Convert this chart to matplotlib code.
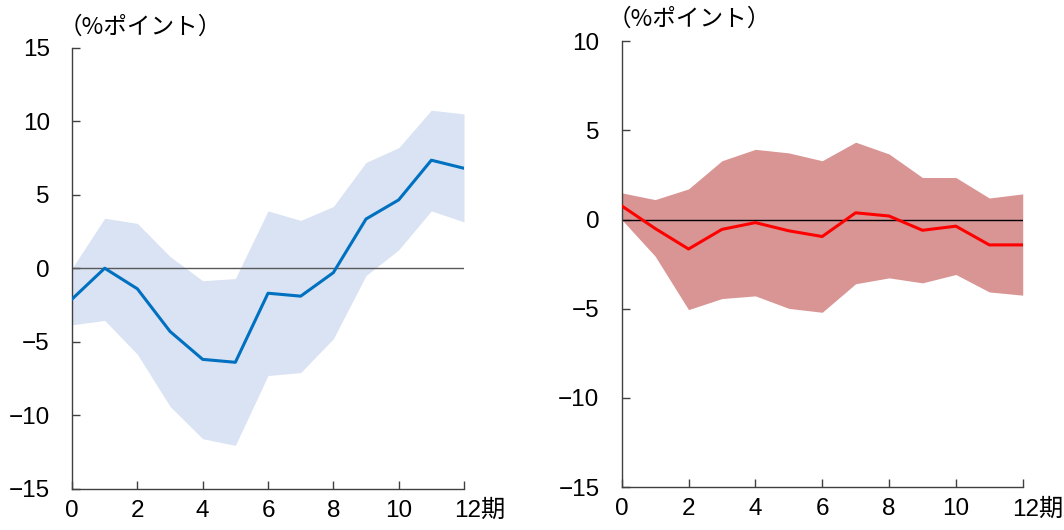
import matplotlib.pyplot as plt
from matplotlib.transforms import ScaledTranslation

plt.rcParams["font.family"] = ["Liberation Sans", "Noto Sans CJK JP"]
plt.rcParams["axes.unicode_minus"] = True

periods = list(range(13))

left_mid = [-2.1, 0.0, -1.4, -4.3, -6.2, -6.4, -1.7, -1.9, -0.3, 3.35, 4.65, 7.35, 6.8]
left_upper = [0.0, 3.4, 3.05, 0.8, -0.85, -0.7, 3.9, 3.25, 4.2, 7.2, 8.2, 10.75, 10.5]
left_lower = [-3.85, -3.55, -5.85, -9.4, -11.6, -12.05, -7.3, -7.1, -4.8, -0.5, 1.25, 3.9, 3.15]

right_mid = [0.77, -0.5, -1.65, -0.55, -0.17, -0.63, -0.95, 0.38, 0.2, -0.6, -0.37, -1.42, -1.42]
right_upper = [1.5, 1.12, 1.72, 3.3, 3.94, 3.74, 3.3, 4.34, 3.68, 2.36, 2.36, 1.21, 1.44]
right_lower = [0.0, -2.05, -5.05, -4.43, -4.28, -4.98, -5.2, -3.6, -3.27, -3.55, -3.08, -4.06, -4.24]

x_ticks = [0, 2, 4, 6, 8, 10, 12]
x_labels = ["0", "2", "4", "6", "8", "10", "12期"]
unit_label = "（%ポイント）"

fig = plt.figure(figsize=(10.64, 5.30), dpi=100)
ax1 = fig.add_axes([0.0677, 0.0779, 0.3684, 0.832])
ax2 = fig.add_axes([0.5843, 0.0811, 0.3769, 0.841])


def style_axis(ax, ylim, yticks, zero_color):
    ax.set_xlim(0, 12)
    ax.set_ylim(*ylim)
    ax.set_yticks(yticks)
    ax.set_xticks(x_ticks)
    ax.set_xticklabels(x_labels)
    for s in ["top", "right"]:
        ax.spines[s].set_visible(False)
    for s in ["left", "bottom"]:
        ax.spines[s].set_color("#404040")
        ax.spines[s].set_linewidth(1.0)
    ax.tick_params(direction="in", length=6, width=1, color="#404040",
                   labelsize=17.5, pad=8)
    ax.tick_params(axis="y", pad=16)
    ax.plot([0, 12], [0, 0], color=zero_color, lw=1.0, zorder=2)
    # shift "12期" so that "12" sits under the tick
    lab = ax.get_xticklabels()[-1]
    lab.set_transform(lab.get_transform() + ScaledTranslation(11 / 72, 0, fig.dpi_scale_trans))


ax1.fill_between(periods, left_lower, left_upper, color="#DAE3F3", lw=0, zorder=1)
ax1.plot(periods, left_mid, color="#0070C0", lw=2.2, zorder=3)
style_axis(ax1, (-15, 15), [-15, -10, -5, 0, 5, 10, 15], "#595959")

ax2.fill_between(periods, right_lower, right_upper, color="#D99594", lw=0, zorder=1)
ax2.plot(periods, right_mid, color="#FF0000", lw=2.2, zorder=3)
style_axis(ax2, (-15, 10), [-15, -10, -5, 0, 5, 10], "#000000")

fig.text(0.055, 0.948, unit_label, fontsize=17, va="center", ha="left",
         family=["Noto Sans CJK JP"])
fig.text(0.571, 0.963, unit_label, fontsize=17, va="center", ha="left",
         family=["Noto Sans CJK JP"])

fig.savefig("out.png", dpi=100)
